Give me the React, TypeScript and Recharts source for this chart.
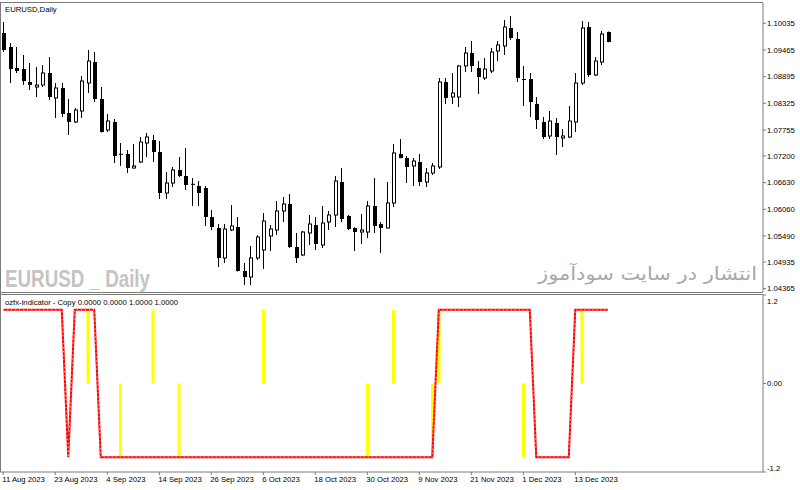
import React from "react";
import { ComposedChart, Bar, Line, XAxis, YAxis } from "recharts";

// EURUSD daily candles, 11 Aug 2023 .. 20 Dec 2023
const dates = [
  "11 Aug 2023", "14 Aug 2023", "15 Aug 2023", "16 Aug 2023", "17 Aug 2023", "18 Aug 2023", "21 Aug 2023", "22 Aug 2023", "23 Aug 2023", "24 Aug 2023",
  "25 Aug 2023", "28 Aug 2023", "29 Aug 2023", "30 Aug 2023", "31 Aug 2023", "1 Sep 2023", "4 Sep 2023", "5 Sep 2023", "6 Sep 2023", "7 Sep 2023",
  "8 Sep 2023", "11 Sep 2023", "12 Sep 2023", "13 Sep 2023", "14 Sep 2023", "15 Sep 2023", "18 Sep 2023", "19 Sep 2023", "20 Sep 2023", "21 Sep 2023",
  "22 Sep 2023", "25 Sep 2023", "26 Sep 2023", "27 Sep 2023", "28 Sep 2023", "29 Sep 2023", "2 Oct 2023", "3 Oct 2023", "4 Oct 2023", "5 Oct 2023",
  "6 Oct 2023", "9 Oct 2023", "10 Oct 2023", "11 Oct 2023", "12 Oct 2023", "13 Oct 2023", "16 Oct 2023", "17 Oct 2023", "18 Oct 2023", "19 Oct 2023",
  "20 Oct 2023", "23 Oct 2023", "24 Oct 2023", "25 Oct 2023", "26 Oct 2023", "27 Oct 2023", "30 Oct 2023", "31 Oct 2023", "1 Nov 2023", "2 Nov 2023",
  "3 Nov 2023", "6 Nov 2023", "7 Nov 2023", "8 Nov 2023", "9 Nov 2023", "10 Nov 2023", "13 Nov 2023", "14 Nov 2023", "15 Nov 2023", "16 Nov 2023",
  "17 Nov 2023", "20 Nov 2023", "21 Nov 2023", "22 Nov 2023", "23 Nov 2023", "24 Nov 2023", "27 Nov 2023", "28 Nov 2023", "29 Nov 2023", "30 Nov 2023",
  "1 Dec 2023", "4 Dec 2023", "5 Dec 2023", "6 Dec 2023", "7 Dec 2023", "8 Dec 2023", "11 Dec 2023", "12 Dec 2023", "13 Dec 2023", "14 Dec 2023",
  "15 Dec 2023", "18 Dec 2023", "19 Dec 2023", "20 Dec 2023",
];

const open = [
  1.09828, 1.09529, 1.0908, 1.09058, 1.08781, 1.08674, 1.08716, 1.08973, 1.08439, 1.08652,
  1.08118, 1.07926, 1.08161, 1.08759, 1.09208, 1.08417, 1.07755, 1.07926, 1.07246, 1.07242,
  1.06943, 1.07071, 1.07477, 1.07541, 1.07285, 1.06409, 1.06622, 1.069, 1.06772, 1.06605,
  1.06558, 1.06515, 1.05896, 1.05661, 1.0502, 1.05618, 1.05682, 1.04742, 1.04613, 1.0502,
  1.0519, 1.0549, 1.05618, 1.06024, 1.06174, 1.05255, 1.05084, 1.05554, 1.05725, 1.05297,
  1.05789, 1.05938, 1.06644, 1.05917, 1.05661, 1.05575, 1.05575, 1.06131, 1.05746, 1.05661,
  1.06195, 1.07242, 1.07156, 1.06986, 1.07071, 1.06644, 1.06836, 1.06964, 1.08781, 1.0846,
  1.0846, 1.09123, 1.094, 1.0908, 1.08866, 1.09016, 1.09443, 1.0955, 1.09935, 1.097,
  1.08845, 1.08845, 1.08311, 1.07926, 1.07627, 1.07905, 1.07584, 1.07605, 1.07926, 1.08759,
  1.09956, 1.0893, 1.09208, 1.09849,
];
const high = [
  1.10063, 1.09614, 1.09529, 1.09358, 1.09187, 1.09101, 1.09144, 1.09315, 1.08759, 1.08759,
  1.08417, 1.08225, 1.08909, 1.09465, 1.09422, 1.08674, 1.08097, 1.0799, 1.07477, 1.07327,
  1.07456, 1.07605, 1.07691, 1.07648, 1.0752, 1.06857, 1.06964, 1.07178, 1.0737, 1.06729,
  1.06665, 1.06558, 1.06045, 1.05746, 1.05746, 1.06152, 1.05896, 1.04913, 1.05276, 1.05511,
  1.05981, 1.05725, 1.06238, 1.06323, 1.06387, 1.05554, 1.05596, 1.05938, 1.05896, 1.06131,
  1.06024, 1.06772, 1.06943, 1.05938, 1.05675, 1.0596, 1.06238, 1.06729, 1.05789, 1.06644,
  1.07456, 1.07563, 1.07199, 1.07156, 1.07242, 1.06943, 1.0705, 1.08866, 1.08866, 1.08973,
  1.09144, 1.09529, 1.09657, 1.09229, 1.09294, 1.09507, 1.09657, 1.10106, 1.10191, 1.09849,
  1.09123, 1.08973, 1.0846, 1.08033, 1.08161, 1.08011, 1.07776, 1.08268, 1.08973, 1.10084,
  1.10063, 1.09315, 1.09871, 1.0986,
];
const low = [
  1.09422, 1.08759, 1.08973, 1.08716, 1.0861, 1.0846, 1.08674, 1.08396, 1.08011, 1.08033,
  1.07648, 1.07905, 1.08011, 1.08546, 1.08353, 1.077, 1.07712, 1.0705, 1.06986, 1.06836,
  1.0693, 1.0705, 1.07178, 1.07071, 1.0628, 1.0628, 1.06537, 1.0675, 1.06473, 1.06131,
  1.06131, 1.05703, 1.05618, 1.04827, 1.04913, 1.05596, 1.0473, 1.04442, 1.04442, 1.04977,
  1.04784, 1.05169, 1.05511, 1.05789, 1.05233, 1.04913, 1.05063, 1.05297, 1.0519, 1.05233,
  1.05618, 1.05682, 1.05789, 1.05618, 1.05169, 1.05319, 1.05447, 1.05554, 1.05126, 1.0565,
  1.06109, 1.0715, 1.06622, 1.06558, 1.06558, 1.06537, 1.06793, 1.06921, 1.08311, 1.08311,
  1.08246, 1.08994, 1.08994, 1.08524, 1.08823, 1.08973, 1.09229, 1.09358, 1.09678, 1.08781,
  1.08268, 1.08033, 1.07776, 1.07563, 1.07563, 1.07221, 1.07392, 1.07584, 1.07712, 1.08716,
  1.08887, 1.08909, 1.09144, 1.0963,
];
const close = [
  1.09465, 1.09058, 1.09016, 1.08802, 1.08716, 1.08716, 1.08973, 1.0846, 1.08652, 1.08097,
  1.07926, 1.08182, 1.08802, 1.09229, 1.08417, 1.07712, 1.07947, 1.07199, 1.07238, 1.06943,
  1.06986, 1.07498, 1.07605, 1.07285, 1.06409, 1.06622, 1.069, 1.06772, 1.0658, 1.06598,
  1.06409, 1.05896, 1.05682, 1.0502, 1.05639, 1.05703, 1.04742, 1.04613, 1.0502, 1.05468,
  1.0581, 1.05639, 1.06024, 1.06174, 1.05255, 1.0502, 1.05575, 1.05746, 1.05319, 1.05767,
  1.05938, 1.06665, 1.05853, 1.05639, 1.05575, 1.05618, 1.06131, 1.05703, 1.05661, 1.06195,
  1.07263, 1.07156, 1.06964, 1.07092, 1.06644, 1.06836, 1.06986, 1.08781, 1.08439, 1.08546,
  1.09123, 1.094, 1.09123, 1.08887, 1.09058, 1.09422, 1.09571, 1.09956, 1.09721, 1.08866,
  1.08823, 1.08353, 1.07969, 1.07605, 1.07947, 1.07605, 1.07627, 1.07947, 1.08759, 1.09935,
  1.0893, 1.09229, 1.09806, 1.09636,
];

// ozfx indicator: trend line (+1 / -1) and yellow signal bars
const trend = [
  1, 1, 1, 1, 1, 1, 1, 1, 1, 1,
  -1, 1, 1, 1, 1, -1, -1, -1, -1, -1,
  -1, -1, -1, -1, -1, -1, -1, -1, -1, -1,
  -1, -1, -1, -1, -1, -1, -1, -1, -1, -1,
  -1, -1, -1, -1, -1, -1, -1, -1, -1, -1,
  -1, -1, -1, -1, -1, -1, -1, -1, -1, -1,
  -1, -1, -1, -1, -1, -1, -1, 1, 1, 1,
  1, 1, 1, 1, 1, 1, 1, 1, 1, 1,
  1, 1, -1, -1, -1, -1, -1, -1, 1, 1,
  1, 1, 1, 1,
];
const signal = [
  0, 0, 0, 0, 0, 0, 0, 0, 0, 0,
  0, 0, 0, 1, 0, 0, 0, 0, -1, 0,
  0, 0, 0, 1, 0, 0, 0, -1, 0, 0,
  0, 0, 0, 0, 0, 0, 0, 0, 0, 0,
  1, 0, 0, 0, 0, 0, 0, 0, 0, 0,
  0, 0, 0, 0, 0, 0, -1, 0, 0, 0,
  1, 0, 0, 0, 0, 0, -1, 1, 0, 0,
  0, 0, 0, 0, 0, 0, 0, 0, 0, 0,
  -1, 0, 0, 0, 0, 0, 0, 0, 0, 1,
  0, 0, 0, 0,
];

const priceTicks = [1.10035, 1.09465, 1.08895, 1.08325, 1.07755, 1.072, 1.0663, 1.0606, 1.0549, 1.04935, 1.04365];
const dateTicks = [0, 8, 16, 24, 32, 40, 48, 56, 64, 72, 80, 88];
const indTicks = [1.2, 0, -1.2];

const rows = dates.map((d, i) => ({
  i,
  date: d,
  open: open[i],
  high: high[i],
  low: low[i],
  close: close[i],
  range: [low[i], high[i]],
  trend: trend[i],
  signal: signal[i] === 0 ? null : signal[i],
}));

const X_DOMAIN: [number, number] = [-0.5, 116.88];
const FONT = "'Liberation Sans', Arial, sans-serif";
const FRAME = "#7a7a7a";
const AXIS_FONT = 7.7;

const Candle = (props: any) => {
  const { x, y, width, height, payload } = props;
  if (!payload || height == null) return null;
  const { open: o, close: c, high: h, low: l } = payload;
  const n = Math.floor(x + width / 2);
  const cx = n + 0.5;
  const k = h - l > 0 ? height / (h - l) : 0;
  const top = y + (h - Math.max(o, c)) * k;
  const bot = y + (h - Math.min(o, c)) * k;
  const bh = Math.max(bot - top, 1);
  if (c >= o) {
    return (
      <g>
        <line x1={cx} x2={cx} y1={y} y2={top} stroke="#000" strokeWidth={1} />
        <line x1={cx} x2={cx} y1={top + bh} y2={y + height} stroke="#000" strokeWidth={1} />
        <rect x={n - 0.5} y={top} width={3} height={bh} fill="#fff" stroke="#000" strokeWidth={1} />
      </g>
    );
  }
  return (
    <g>
      <line x1={cx} x2={cx} y1={y} y2={y + height} stroke="#000" strokeWidth={1} />
      <rect x={n - 1} y={top} width={4} height={bh} fill="#000" />
    </g>
  );
};

const DateTick = ({ x, y, payload }: any) => (
  <text x={x - 1} y={y} dy="0.71em" textAnchor="start" fontSize={AXIS_FONT} fontFamily={FONT} fill="#000">
    {dates[payload.value]}
  </text>
);

const IndTick = ({ x, y, payload }: any) => {
  const v = payload.value;
  const label = v === 0 ? "0.00" : v.toFixed(1);
  const dy = v > 0 ? 6 : v < 0 ? -4 : 0;
  return (
    <text x={x} y={y + dy} dy="0.35em" textAnchor="start" fontSize={AXIS_FONT} fontFamily={FONT} fill="#000">
      {label}
    </text>
  );
};

export default function App() {
  return (
    <div style={{ position: "absolute", left: 0, top: 0, width: 800, height: 490, background: "#fff", overflow: "hidden" }}>
      <div style={{ position: "absolute", left: 0, top: 0 }}>
        <ComposedChart width={800} height={294} data={rows} margin={{ top: 3, right: 0, left: 0, bottom: 2 }}>
          <XAxis dataKey="i" type="number" domain={X_DOMAIN} allowDataOverflow hide />
          <YAxis
            orientation="right"
            width={37}
            domain={[1.04293, 1.10469]}
            allowDataOverflow
            ticks={priceTicks}
            interval={0}
            tickFormatter={(v: number) => v.toFixed(5)}
            tickSize={3}
            tickMargin={1}
            axisLine={{ stroke: FRAME }}
            tickLine={{ stroke: FRAME }}
            tick={{ fontSize: AXIS_FONT, fill: "#000", fontFamily: FONT }}
          />
          <Bar dataKey="range" barSize={5} shape={Candle} isAnimationActive={false} />
        </ComposedChart>
      </div>
      <div style={{ position: "absolute", left: 0, top: 293 }}>
        <ComposedChart width={800} height={197} data={rows} margin={{ top: 2, right: 0, left: 0, bottom: 0 }}>
          <XAxis
            dataKey="i"
            type="number"
            domain={X_DOMAIN}
            allowDataOverflow
            ticks={dateTicks}
            interval={0}
            height={18}
            tickSize={3}
            tickMargin={2}
            axisLine={{ stroke: FRAME }}
            tickLine={{ stroke: FRAME }}
            tick={DateTick}
          />
          <YAxis
            orientation="right"
            width={37}
            domain={[-1.2, 1.2]}
            allowDataOverflow
            ticks={indTicks}
            interval={0}
            tickSize={3}
            tickMargin={1}
            axisLine={{ stroke: FRAME }}
            tickLine={{ stroke: FRAME }}
            tick={IndTick}
          />
          <Bar dataKey="signal" barSize={3} fill="#ffff00" isAnimationActive={false} />
          <Line dataKey="trend" type="linear" stroke="#ff0000" strokeWidth={2} dot={false} isAnimationActive={false} />
          <Line dataKey="trend" type="linear" stroke="#ffc8c8" strokeWidth={1} strokeDasharray="1 3" dot={false} isAnimationActive={false} />
        </ComposedChart>
      </div>
      <svg width={800} height={490} style={{ position: "absolute", left: 0, top: 0, pointerEvents: "none" }}>
        <line x1={0} x2={763} y1={2.5} y2={2.5} stroke={FRAME} />
        <line x1={0.5} x2={0.5} y1={2} y2={472} stroke={FRAME} />
        <line x1={0} x2={763} y1={292.5} y2={292.5} stroke={FRAME} />
        <line x1={0} x2={763} y1={294.5} y2={294.5} stroke={FRAME} />
        <text x={5} y={12} fontSize={7.7} fontFamily={FONT} fill="#000">EURUSD,Daily</text>
        <text
          x={5}
          y={287}
          fontSize={23}
          fontWeight="bold"
          fontFamily="'Liberation Sans Narrow', 'Liberation Sans', sans-serif"
          fill="#c4c4c4"
          textLength={145}
          lengthAdjust="spacingAndGlyphs"
        >
          EURUSD _ Daily
        </text>
        <text
          x={538}
          y={280}
          fontSize={18}
          fontFamily="'DejaVu Sans', sans-serif"
          fill="#a8a8a8"
          textLength={219}
          lengthAdjust="spacingAndGlyphs"
        >
          انتشار در سایت سودآموز
        </text>
        <text x={5} y={305} fontSize={7.7} fontFamily={FONT} fill="#000">
          ozfx-indicator - Copy 0.0000 0.0000 1.0000 1.0000
        </text>
      </svg>
    </div>
  );
}
